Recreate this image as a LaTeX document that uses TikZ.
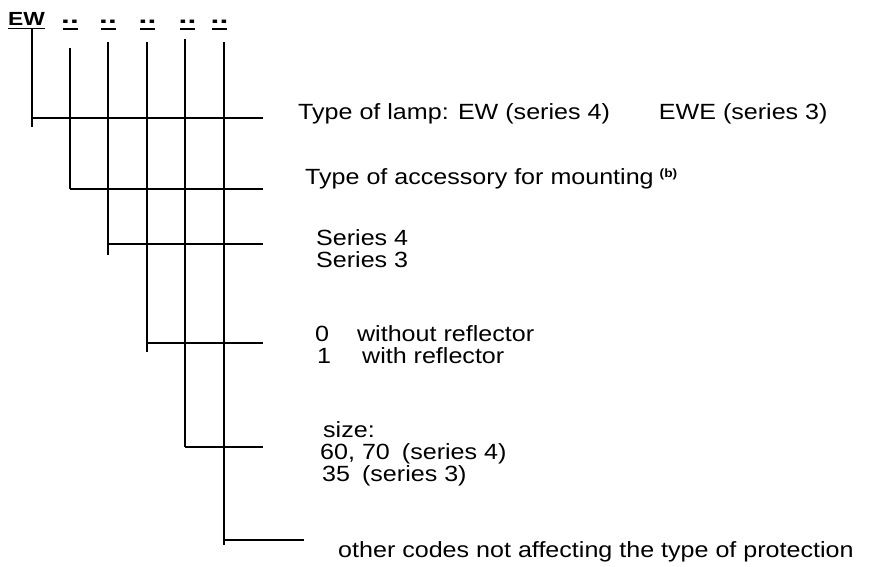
\documentclass[tikz,border=0pt]{standalone}
\usepackage{fontspec}
\setmainfont{Liberation Sans}[FakeStretch=1.14]
\newfontfamily\hdfont{Liberation Sans}[FakeStretch=1.2]
\newfontfamily\mkfont{Liberation Sans}[FakeStretch=1.37]
\begin{document}
\begin{tikzpicture}[x=1pt,y=-1pt,
  txt/.style={anchor=base west,inner sep=0pt,font=\fontsize{22}{22}\selectfont},
  hd/.style={anchor=base,inner sep=0pt,font=\hdfont\bfseries\fontsize{19}{19}\selectfont},
  mk/.style={anchor=base,inner sep=0pt,font=\mkfont\bfseries\fontsize{23}{23}\selectfont},
  ln/.style={line width=1.6pt},
  ul/.style={line width=1.8pt}]
\useasboundingbox (0,0) rectangle (875,567);
% header
\node[hd] (hEW) at (26.5,25.5) {EW};
\draw[ul] (8,28.5) -- (45,28.5);
\foreach \i/\x in {1/70,2/108,3/147.5,4/187.5,5/219.5}{
  \node[mk] (m\i) at (\x,23.5) {..};
  \draw[ul] (\x-7.5,29) -- (\x+7.5,29);
}
% coordinates
\coordinate (t0) at (32,29);   \coordinate (b0) at (32,127);  \coordinate (c0) at (32,118);  \coordinate (e0) at (263,118);
\coordinate (t1) at (70,48);   \coordinate (b1) at (70,189);  \coordinate (c1) at (70,189);  \coordinate (e1) at (263,189);
\coordinate (t2) at (108,42);  \coordinate (b2) at (108,255); \coordinate (c2) at (108,244); \coordinate (e2) at (263,244);
\coordinate (t3) at (147,42);  \coordinate (b3) at (147,352); \coordinate (c3) at (147,343); \coordinate (e3) at (263,343);
\coordinate (t4) at (185,39);  \coordinate (b4) at (185,447); \coordinate (c4) at (185,447); \coordinate (e4) at (263,447);
\coordinate (t5) at (224,42);  \coordinate (b5) at (224,545); \coordinate (c5) at (224,540); \coordinate (e5) at (304,540);
\foreach \i in {0,...,5}{
  \draw[ln] (t\i) -- (b\i);
  \draw[ln] (c\i) -- (e\i);
}
% texts
\node[txt] (l0) at (298,120) {Type of lamp: EW (series 4)\hspace{49pt}EWE (series 3)};
\node[txt] (l1) at (305,184) {Type of accessory for mounting\hspace{6pt}\raisebox{7pt}{\bfseries\fontsize{12}{12}\selectfont(b)}};
\node[txt] (l2a) at (316,245) {Series 4};
\node[txt] (l2b) at (316,267) {Series 3};
\node[txt] (l3a) at (315,341) {0\hspace{28pt}without reflector};
\node[txt] (l3b) at (317,363) {1\hspace{31pt}with reflector};
\node[txt] (l4a) at (323,437) {size:};
\node[txt] (l4b) at (320,459) {60, 70\hspace{12pt}(series 4)};
\node[txt] (l4c) at (322,481) {35\hspace{12pt}(series 3)};
\node[txt] (l5) at (338,557) {other codes not affecting the type of protection};
\end{tikzpicture}
\end{document}
